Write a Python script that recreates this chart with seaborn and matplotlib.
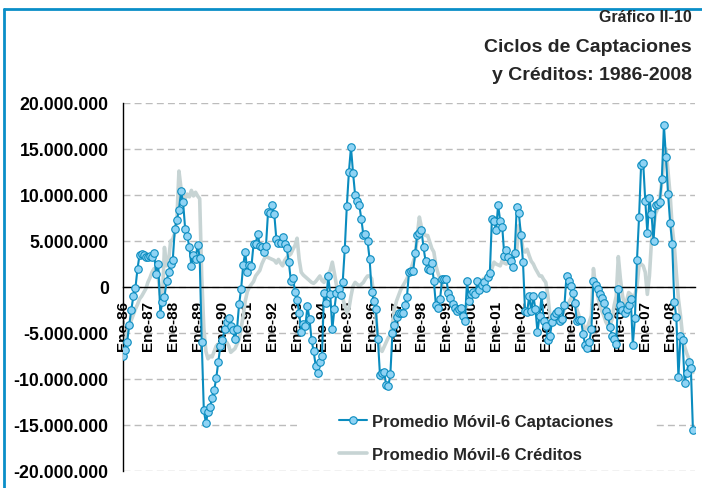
import numpy as np
import pandas as pd
import matplotlib
matplotlib.use("Agg")
import matplotlib.pyplot as plt
import seaborn as sns
from matplotlib.patches import Rectangle
from matplotlib.lines import Line2D

# ---------------- data (millions, monthly Jan-1986 .. Dec-2008) ----------------
captaciones_mm = [
    -7.5, -6.8, -6.0, -4.1, -2.5, -1.0, -0.1, 2.0, 3.5, 3.6, 3.5, 3.3,        # 1986
    3.3, 3.4, 3.3, 3.7, 1.4, 2.5, -2.9, -1.6, -1.1, 0.6, 1.6, 2.5,            # 1987
    2.9, 6.3, 7.3, 8.4, 10.4, 9.2, 6.3, 5.5, 4.4, 2.3, 3.5, 3.0,              # 1988
    4.6, 3.2, -6.0, -13.4, -14.8, -13.6, -13.0, -12.1, -11.2, -9.9, -8.1, -6.4,  # 1989
    -5.8, -4.6, -3.8, -3.4, -4.2, -4.7, -5.7, -4.6, -1.9, -0.2, 2.4, 3.8,     # 1990
    1.6, 2.4, 2.3, 4.7, 4.7, 5.8, 4.5, 4.3, 3.8, 4.5, 8.2, 8.0,               # 1991
    8.9, 7.9, 5.2, 4.8, 4.8, 5.4, 4.7, 4.2, 2.7, 0.7, 1.0, -0.5,              # 1992
    -1.4, -2.8, -4.9, -4.0, -4.2, -2.1, -3.5, -5.8, -7.0, -8.6, -9.3, -8.1,   # 1993
    -7.5, -0.6, -1.7, 1.2, -0.8, -4.6, -2.4, -0.6, -0.2, -0.9, 0.5, 4.1,      # 1994
    8.8, 12.5, 15.2, 12.4, 10.0, 9.4, 8.9, 7.4, 5.6, 5.8, 5.0, 3.0,           # 1995
    -0.5, -1.5, -2.4, -5.7, -9.6, -9.3, -9.2, -10.7, -10.8, -9.5, -5.0, -4.1, # 1996
    -3.3, -2.8, -2.8, -2.8, -2.0, -1.1, 1.6, 1.7, 1.7, 3.7, 5.7, 5.9,         # 1997
    6.2, 4.3, 2.8, 2.0, 1.8, 2.6, 0.6, -2.0, -2.3, -1.3, 0.9, 0.9,            # 1998
    0.9, -0.7, -1.2, -1.8, -2.3, -2.6, -2.4, -2.3, -3.2, -3.7, 0.6, -1.5,     # 1999
    -0.8, -0.5, -0.8, 0.6, -0.3, 0.2, 0.5, -0.1, 1.1, 1.5, 7.4, 7.2,          # 2000
    6.2, 8.9, 7.2, 6.5, 3.4, 4.0, 3.3, 2.8, 2.2, 3.7, 8.7, 8.0,               # 2001
    5.7, 2.7, -2.6, -2.7, -1.0, -2.6, -1.0, -2.4, -4.9, -3.1, -0.9, -3.7,     # 2002
    -4.2, -5.8, -5.3, -3.8, -3.2, -2.8, -2.6, -3.7, -3.5, -2.0, 1.2, 0.7,     # 2003
    0.1, -0.6, -1.7, -3.7, -3.6, -3.6, -5.1, -6.3, -6.6, -6.0, -4.6, 0.7,     # 2004
    0.2, -0.2, -0.8, -1.2, -1.7, -2.6, -3.1, -4.4, -5.3, -5.6, -6.2, -0.2,    # 2005
    -2.0, -2.5, -2.8, -2.4, -2.0, -1.3, -6.3, -3.4, 2.9, 7.6, 13.3, 13.5,     # 2006
    9.4, 5.9, 9.7, 7.9, 5.0, 8.9, 9.0, 9.2, 11.7, 17.6, 14.1, 10.1,           # 2007
    7.0, 4.7, -1.6, -3.3, -9.8, -5.3, -5.8, -10.4, -9.3, -8.2, -8.8, -15.5,   # 2008
]

creditos_mm = [
    -6.5, -5.8, -5.0, -4.2, -3.6, -3.0, -2.4, -1.9, -1.3, -1.0, -0.6, -0.2,   # 1986
    0.5, 1.0, 1.6, 2.0, 2.0, 1.0, -0.8, -1.3, 4.3, 2.3, 2.9, 5.0,             # 1987
    5.2, 5.9, 7.4, 12.6, 10.7, 9.2, 9.6, 10.1, 9.8, 10.5, 9.9, 10.3,          # 1988
    9.9, 9.6, 1.0, -4.5, -7.0, -7.8, -7.5, -7.6, -7.0, -6.4, -6.2, -6.2,      # 1989
    -6.0, -6.0, -6.0, -6.4, -7.1, -6.9, -6.7, -6.2, -5.7, -4.5, -3.1, -1.5,   # 1990
    -0.5, 0.0, 0.3, 0.6, 1.2, 1.5, 1.8, 2.5, 3.0, 3.4, 3.2, 3.1,              # 1991
    3.0, 2.9, 2.6, 3.0, 2.6, 2.3, 2.9, 3.2, 3.4, 3.6, 4.1, 4.5,               # 1992
    5.3, 3.0, 1.6, 1.3, 1.1, 0.9, 0.7, 0.5, 0.4, 0.6, 0.9, 1.2,               # 1993
    0.7, 0.5, 1.2, 1.4, 1.8, 2.7, 1.5, 0.2, -0.2, -0.6, -1.2, -2.0,           # 1994
    -2.8, -2.4, -1.0, 0.1, 0.5, 0.3, 0.1, 0.3, 0.5, 0.9, 1.2, 1.2,            # 1995
    0.9, -0.9, -3.1, -5.7, -6.7, -7.0, -6.5, -6.0, -5.5, -5.3, -4.0, -2.4,    # 1996
    -1.5, -0.9, -0.3, 0.1, 0.5, 0.9, 1.5, 2.0, 2.7, 3.4, 5.6, 7.6,            # 1997
    6.5, 5.9, 5.6, 5.6, 4.9, 4.2, 3.8, 2.3, 1.5, 0.9, 0.2, -0.2,              # 1998
    -0.6, -0.9, -1.5, -2.0, -2.4, -2.8, -2.9, -2.6, -2.5, -2.3, -2.0, -1.6,   # 1999
    -1.3, -0.9, -0.5, -0.1, 0.5, 0.7, 0.9, 1.0, 1.2, 1.6, 2.0, 2.7,           # 2000
    2.5, 2.4, 2.3, 2.9, 2.6, 2.5, 2.7, 2.9, 3.2, 3.6, 4.1, 6.7,               # 2001
    5.6, 4.0, 3.8, 4.1, 3.4, 2.8, 2.5, 2.0, 1.6, 1.2, 1.2, 0.8,               # 2002
    0.5, -0.9, -3.1, -3.8, -4.0, -3.8, -3.6, -3.5, -3.0, -2.4, -2.0, -1.7,    # 2003
    -1.3, -0.9, -1.5, -2.4, -3.1, -3.5, -4.0, -4.6, -4.4, -3.8, -3.1, 2.0,    # 2004
    0.1, -0.9, -2.0, -2.6, -3.1, -3.8, -4.2, -4.2, -3.5, -2.0, -1.0, 3.3,     # 2005
    0.9, -0.9, -2.0, -1.5, -0.6, -0.8, -1.0, -0.9, 0.1, 2.3, 2.5, 2.3,        # 2006
    1.6, -0.8, 1.2, 5.0, 6.5, 8.0, 8.5, 9.5, 11.5, 13.5, 15.0, 12.5,          # 2007
    10.0, 6.5, 4.5, 1.5, -1.3, -3.1, -5.3, -6.5, -7.2, -7.8, -8.5, -9.3,      # 2008
]

x_tick_labels = [f"Ene-{y % 100:02d}" for y in range(1986, 2009)] + [""]
y_ticks = [-20e6, -15e6, -10e6, -5e6, 0, 5e6, 10e6, 15e6, 20e6]
legend_labels = ["Promedio Móvil-6 Captaciones", "Promedio Móvil-6 Créditos"]
title_lines = ["Gráfico II-10", "Ciclos de Captaciones", "y Créditos: 1986-2008"]

# ---------------- styling ----------------
BLUE = "#0a8cbf"
LIGHT = "#8fd3f4"
GRAY = "#c7d4d4"
BORDER = "#0a8ec8"

sns.set_theme(style="white")
plt.rcParams["font.family"] = ["Liberation Sans", "DejaVu Sans"]
plt.rcParams["font.weight"] = "bold"

W, H = 702, 489
fig = plt.figure(figsize=(W / 100, H / 100), dpi=100)
ax = fig.add_axes([123 / W, (H - 472) / H, 572 / W, 368 / H])

df = pd.DataFrame({
    "mes": np.arange(len(captaciones_mm)),
    "Captaciones": np.array(captaciones_mm) * 1e6,
    "Creditos": np.array(creditos_mm) * 1e6,
})

sns.lineplot(data=df, x="mes", y="Creditos", ax=ax, color=GRAY, linewidth=2.6,
             label=legend_labels[1], zorder=2)
sns.lineplot(data=df, x="mes", y="Captaciones", ax=ax, color=BLUE, linewidth=1.5,
             marker="o", markersize=5.4, markerfacecolor=LIGHT,
             markeredgecolor=BLUE, markeredgewidth=0.8,
             label=legend_labels[0], zorder=3)

ax.set_xlim(0, 276)
ax.set_ylim(-20e6, 20e6)
ax.set_xlabel("")
ax.set_ylabel("")

ax.set_xticks(np.arange(0, 277, 12))
ax.set_xticklabels(x_tick_labels, fontsize=12.7, fontweight="bold")
ax.set_yticks(y_ticks)
ax.set_yticklabels([f"{int(v):,}".replace(",", ".") for v in y_ticks],
                   fontsize=12.7, fontweight="bold")

ax.tick_params(axis="y", direction="out", length=4.3, width=1, pad=6, colors="black")
ax.tick_params(axis="x", direction="out", length=3.6, width=1, pad=5.5,
               colors="black", labelrotation=90)
for lbl in ax.get_xticklabels():
    lbl.set_rotation(90)
    lbl.set_ha("center")
    lbl.set_va("top")

ax.set_axisbelow(True)
ax.yaxis.grid(True, linestyle=(0, (5, 3)), color="#bcbcbc", linewidth=1.0)
ax.xaxis.grid(False)

for s in ["top", "right"]:
    ax.spines[s].set_visible(False)
ax.spines["bottom"].set_position(("data", 0))
ax.spines["bottom"].set_color("black")
ax.spines["left"].set_color("black")
ax.spines["bottom"].set_linewidth(1.0)
ax.spines["left"].set_linewidth(1.0)
ax.spines["bottom"].set_zorder(2.5)

# white legend area
ax.add_patch(Rectangle(((297 - 123) / 572, (472 - 467) / 368), 356 / 572, 71 / 368,
                       transform=ax.transAxes, facecolor="white", edgecolor="none",
                       zorder=1.5))

handles, labels = ax.get_legend_handles_labels()
order = [labels.index(legend_labels[0]), labels.index(legend_labels[1])]
ax.legend([handles[i] for i in order], [labels[i] for i in order],
          loc="center left", bbox_to_anchor=(339 / W, 1 - 439 / H),
          bbox_transform=fig.transFigure, frameon=False, borderpad=0,
          borderaxespad=0, handlelength=1.7, handletextpad=0.25,
          labelspacing=1.05, prop={"weight": "bold", "size": 12})

# titles
fig.text(692 / W, 1 - 18 / H, title_lines[0], ha="right", va="center",
         fontsize=11.5, fontweight="bold")
fig.text(692 / W, 1 - 48 / H, title_lines[1], ha="right", va="center",
         fontsize=14, fontweight="bold")
fig.text(692 / W, 1 - 76 / H, title_lines[2], ha="right", va="center",
         fontsize=14, fontweight="bold")

# blue frame (top and left)
fig.add_artist(Line2D([3.7 / W, 1.0], [1 - 9.5 / H, 1 - 9.5 / H],
                      transform=fig.transFigure, color=BORDER, linewidth=2))
fig.add_artist(Line2D([3.7 / W, 3.7 / W], [0, 1 - 9.5 / H],
                      transform=fig.transFigure, color=BORDER, linewidth=2))

fig.savefig("out.png", dpi=100)
